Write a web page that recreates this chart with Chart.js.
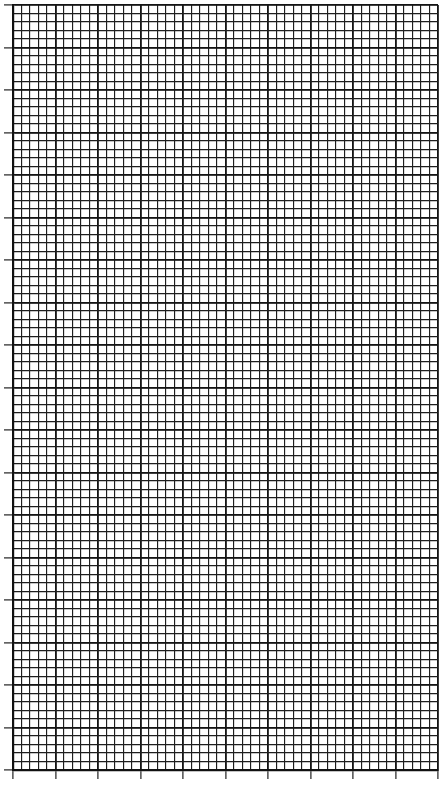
<!DOCTYPE html>
<html>
<head>
<meta charset="utf-8">
<script src="https://cdn.jsdelivr.net/npm/chart.js@4"></script>
<style>
  html, body { margin: 0; padding: 0; background: #fff; }
  #wrap { width: 445px; height: 786px; }
</style>
</head>
<body>
<div id="wrap"><canvas id="c" width="445" height="786"></canvas></div>
<script>
// Graph-paper chart: no plotted series, only the grid.
const xDomain = [0, 50];       // 50 minor cells across
const yDomain = [0, 90];       // 90 minor cells down
const minorStep = [1];
const majorStep = [5];
const xTickLabels = [];        // no tick labels shown
const yTickLabels = [];
const seriesPoints = [];       // no data marks

const ctx = document.getElementById('c').getContext('2d');
new Chart(ctx, {
  type: 'scatter',
  data: { datasets: [{ data: seriesPoints, pointRadius: 0 }] },
  options: {
    responsive: false,
    animation: false,
    devicePixelRatio: 1,
    layout: { padding: { left: 4, top: 5, right: 7, bottom: 7 } },
    plugins: { legend: { display: false }, tooltip: { enabled: false } },
    scales: {
      xMinor: {
        type: 'linear', position: 'bottom', axis: 'x',
        min: xDomain[0], max: xDomain[1],
        ticks: { display: false, stepSize: minorStep[0] },
        grid: { color: '#1e1e1e', lineWidth: 1.15, drawTicks: false },
        border: { display: false }
      },
      x: {
        type: 'linear', position: 'bottom',
        min: xDomain[0], max: xDomain[1],
        ticks: { display: false, stepSize: majorStep[0], callback: (v, i) => xTickLabels[i] || '' },
        grid: { color: '#141414', lineWidth: 1.8, drawTicks: true, tickLength: 9, tickColor: '#222', tickWidth: 1.2 },
        border: { display: true, color: '#111', width: 2.2 }
      },
      yMinor: {
        type: 'linear', position: 'left', axis: 'y',
        min: yDomain[0], max: yDomain[1],
        ticks: { display: false, stepSize: minorStep[0] },
        grid: { color: '#1e1e1e', lineWidth: 1.15, drawTicks: false },
        border: { display: false }
      },
      y: {
        type: 'linear', position: 'left',
        min: yDomain[0], max: yDomain[1],
        ticks: { display: false, stepSize: majorStep[0], callback: (v, i) => yTickLabels[i] || '' },
        grid: { color: '#141414', lineWidth: 1.8, drawTicks: true, tickLength: 9, tickColor: '#222', tickWidth: 1.2 },
        border: { display: true, color: '#111', width: 2.2 }
      }
    }
  }
});
</script>
</body>
</html>
